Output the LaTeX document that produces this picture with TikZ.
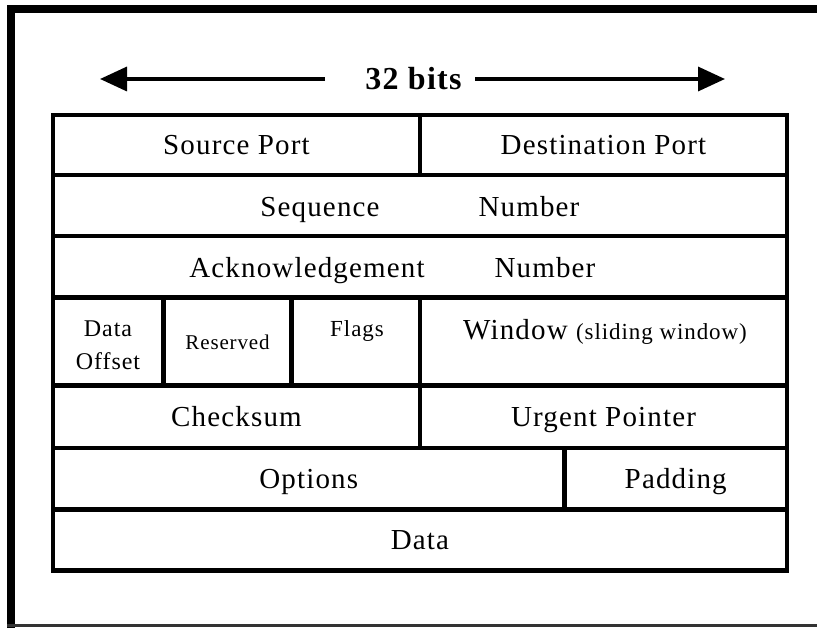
\documentclass[tikz,border=0pt]{standalone}
\usepackage{fontspec}
\setmainfont{Liberation Serif}[LetterSpace=4.0]
\usetikzlibrary{arrows.meta}

\begin{document}
\begin{tikzpicture}[
    x=1pt, y=-1pt,
    cell/.style={draw, line width=4.5pt, anchor=north west, inner sep=0pt, outer sep=0pt},
    big/.style={font=\fontsize{29}{34}\selectfont, text height=19pt, text depth=0pt},
    lbl/.style={inner sep=0pt, anchor=base, font=\fontsize{29}{34}\selectfont},
    arr/.style={-{Triangle[length=27pt, width=24pt]}, line width=3.5pt},
  ]
  \useasboundingbox (0,0) rectangle (817,628);
  % page frame
  \draw[line width=8pt] (11,628) -- (11,9) -- (817,9);
  \draw[line width=2.5pt, black!80] (7,625.5) -- (817,625.5);

  % width marker over the header
  \node[inner sep=0pt, font=\fontsize{32}{36}\selectfont\bfseries] (bits) at (413.5,79) {32 bits};
  \coordinate (lbase) at (325,79);
  \coordinate (ltip) at (100,79);
  \coordinate (rbase) at (475,79);
  \coordinate (rtip) at (725,79);
  \draw[arr] (lbase) -- (ltip);
  \draw[arr] (rbase) -- (rtip);

  % header rows
  \node[cell, big, minimum width=367, minimum height=60] (srcport) at (53,115) {Source Port};
  \node[cell, big, minimum width=367, minimum height=60] (dstport) at (420,115) {Destination Port};
  \node[cell, minimum width=734, minimum height=61] (seqno) at (53,175) {};
  \node[lbl] (seqtxt) at (320,217) {Sequence};
  \node[lbl] (seqnum) at (529,217) {Number};
  \node[cell, minimum width=734, minimum height=61.5] (ackno) at (53,236) {};
  \node[lbl] (acktxt) at (307,278) {Acknowledgement};
  \node[lbl] (acknum) at (545,278) {Number};

  % offset / reserved / flags / window
  \node[cell, minimum width=110.5, minimum height=88] (offset) at (53,297.5) {};
  \node[cell, minimum width=128, minimum height=88] (resvd) at (163.5,297.5) {};
  \node[cell, minimum width=128.5, minimum height=88] (flags) at (291.5,297.5) {};
  \node[cell, minimum width=367, minimum height=88] (window) at (420,297.5) {};
  \node[lbl, font=\fontsize{24}{30}\selectfont] (offtxt1) at (108,337) {Data};
  \node[lbl, font=\fontsize{24}{30}\selectfont] (offtxt2) at (108,370) {Offset};
  \node[lbl, font=\fontsize{21}{26}\selectfont] (resvdtxt) at (227.5,350) {Reserved};
  \node[lbl, font=\fontsize{23}{28}\selectfont] (flagstxt) at (357,337) {Flags};
  \node[lbl] (wintxt) at (605,340) {Window {\fontsize{23}{28}\selectfont(sliding window)}};

  % remaining rows
  \node[cell, big, minimum width=367, minimum height=62.5] (chksum) at (53,385.5) {Checksum};
  \node[cell, big, minimum width=367, minimum height=62.5] (urgptr) at (420,385.5) {Urgent Pointer};
  \node[cell, big, minimum width=511.5, minimum height=61.5] (options) at (53,448) {Options};
  \node[cell, big, minimum width=222.5, minimum height=61.5] (padding) at (564.5,448) {Padding};
  \node[cell, big, minimum width=734, minimum height=61] (data) at (53,509.5) {Data};
\end{tikzpicture}
\end{document}
